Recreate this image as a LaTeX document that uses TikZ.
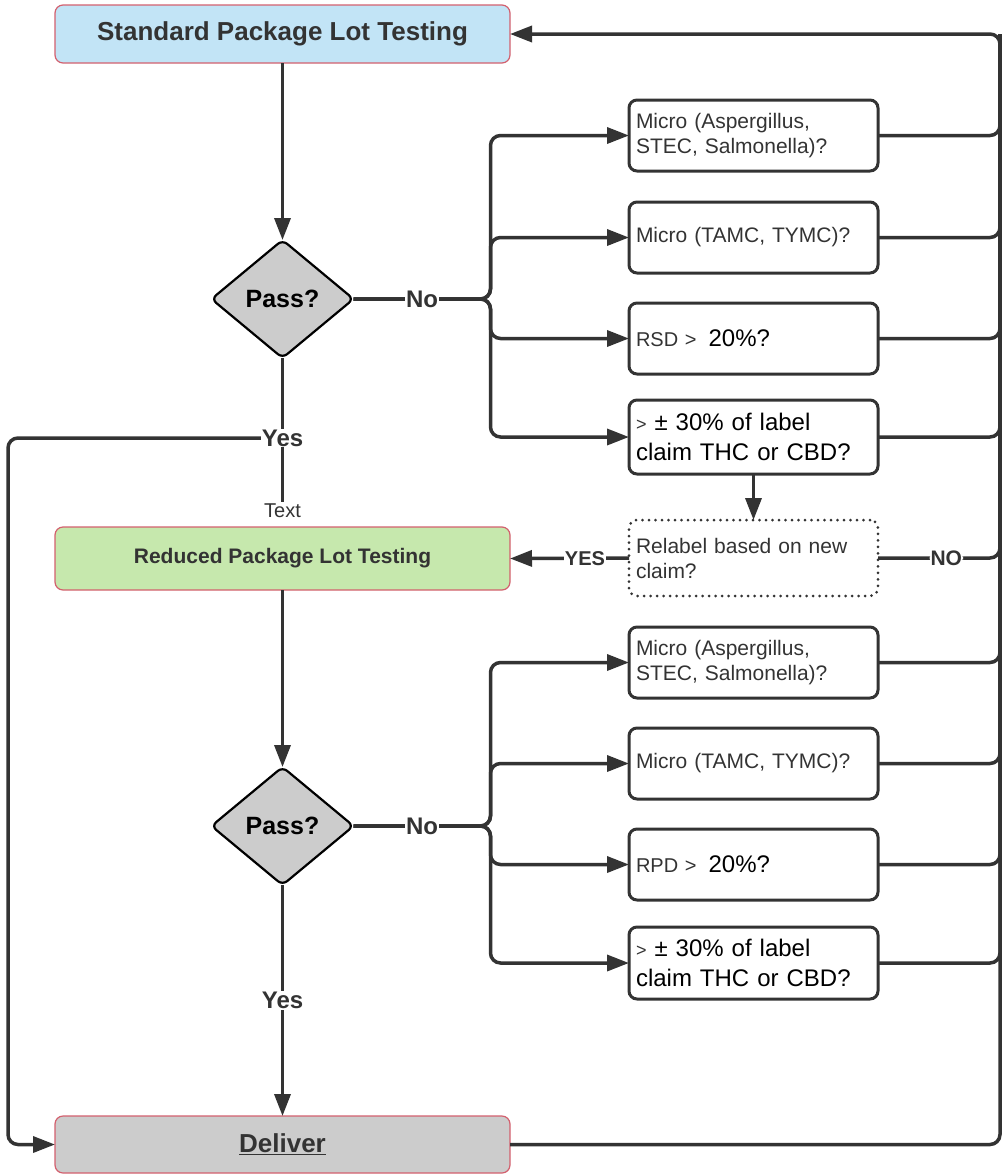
\documentclass[tikz,border=0pt]{standalone}
\usepackage{fontspec}
\setmainfont{Liberation Sans}
\usepackage{tikz}
\usetikzlibrary{arrows.meta,positioning,shapes.geometric}
\definecolor{ink}{HTML}{333333}
\definecolor{stdblue}{HTML}{C2E4F6}
\definecolor{redgreen}{HTML}{C6E8AD}
\definecolor{delgray}{HTML}{CCCCCC}
\definecolor{edge}{HTML}{D3606E}
\tikzset{
    mainbox/.style={rectangle, rounded corners=8pt, draw=edge, line width=1.2pt, outer sep=0pt, minimum width=455pt, text=ink},
    check/.style={rectangle, rounded corners=8pt, draw=ink, line width=3pt, outer sep=0pt, minimum width=249pt, text width=235pt, inner xsep=7pt, align=left, minimum height=71pt, text=ink, font=\fontsize{21}{25}\selectfont},
    decide/.style={diamond, draw=black, fill=delgray, line width=2.2pt, outer sep=0pt, rounded corners=6pt, minimum width=142pt, minimum height=118pt, inner sep=0pt, font=\fontsize{25}{28}\selectfont\bfseries, text=black},
    link/.style={draw=ink, line width=3.5pt},
    flow/.style={link, -{Triangle[length=22pt,width=16pt]}},
    lbl/.style={fill=white, inner sep=1pt, text=ink, font=\fontsize{24}{26}\selectfont\bfseries}
}

\begin{document}
\begin{tikzpicture}[x=1pt, y=-1pt]
            \useasboundingbox (0,0) rectangle (1002,1176);
            \node (std) [mainbox, fill=stdblue, minimum height=58pt, font=\fontsize{26}{30}\selectfont\bfseries] at (282.5,34) {Standard Package Lot Testing} {};
            \node (pass1) [decide, below=177pt of std] {Pass?} {};
            \node (reduced) [mainbox, fill=redgreen, minimum height=63pt, below=169pt of pass1, font=\fontsize{21}{24}\selectfont\bfseries] {Reduced Package Lot Testing} {};
            \node (txt) [above=7pt of reduced, inner sep=2pt, text=ink, font=\fontsize{20}{22}\selectfont] {Text} {};
            \node (pass2) [decide, below=177pt of reduced] {Pass?} {};
            \node (deliver) [mainbox, fill=delgray, minimum height=57pt, below=231pt of pass2, font=\fontsize{26}{30}\selectfont\bfseries] {\underline{Deliver}} {};

            \node (micro1) [check] at (753.5,135.5) {Micro (Aspergillus,\\STEC, Salmonella)?} {};
            \node (micro2) [check, below=31pt of micro1] {Micro (TAMC, TYMC)?} {};
            \node (rsd)    [check, below=30pt of micro2, font=\fontsize{20}{25}\selectfont] {RSD >\hspace{12pt}{\fontsize{24}{25}\selectfont\color{black}20\%?}} {};
            \node (claim1) [check, below=26pt of rsd, minimum height=74pt, font=\fontsize{24}{30}\selectfont] {{\fontsize{18}{20}\selectfont >} {\color{black}± 30\% of label}\\{\color{black}claim THC or CBD?}} {};
            \node (relabel) [check, dash pattern=on 0pt off 6.5pt, line cap=round, below=46pt of claim1, minimum height=76pt, font=\fontsize{21}{25}\selectfont] {Relabel based on new\\claim?} {};
            \node (micro3) [check, below=31pt of relabel] {Micro (Aspergillus,\\STEC, Salmonella)?} {};
            \node (micro4) [check, below=30pt of micro3] {Micro (TAMC, TYMC)?} {};
            \node (rpd)    [check, below=30pt of micro4, font=\fontsize{20}{25}\selectfont] {RPD >\hspace{12pt}{\fontsize{24}{25}\selectfont\color{black}20\%?}} {};
            \node (claim2) [check, below=27pt of rpd, minimum height=72pt, font=\fontsize{24}{30}\selectfont] {{\fontsize{18}{20}\selectfont >} {\color{black}± 30\% of label}\\{\color{black}claim THC or CBD?}} {};

            \coordinate (fork1) at ([xshift=137pt]pass1.east);
            \coordinate (fork2) at ([xshift=137pt]pass2.east);
            \coordinate (yes1) at ([yshift=-80pt]pass1.south);
            \coordinate (bus) at (1000,34);

            \draw[flow] (std.south) -- (pass1.north);
            \draw[link] (pass1.south) -- (txt.north);
            \draw[flow, rounded corners=10pt] (yes1) -| ([xshift=-47pt]deliver.west) -- (deliver.west);
            \draw[flow] (reduced.south) -- (pass2.north);
            \draw[flow] (pass2.south) -- node[lbl]{Yes} (deliver.north);
            \foreach \chk in {micro1,micro2,rsd,claim1}
                \draw[flow, rounded corners=10pt] (pass1.east) -- (fork1) |- (\chk.west);
            \foreach \chk in {micro3,micro4,rpd,claim2}
                \draw[flow, rounded corners=10pt] (pass2.east) -- (fork2) |- (\chk.west);
            \foreach \chk in {micro1,micro2,rsd,claim1,micro3,micro4,rpd,claim2}
                \draw[link, rounded corners=10pt] (\chk.east) -| (bus);
            \draw[link, rounded corners=10pt] (relabel.east) -| node[lbl, pos=0.28, font=\fontsize{21}{24}\selectfont\bfseries]{NO} (bus);
            \draw[flow] (claim1.south) -- (relabel.north);
            \draw[flow] (relabel.west) -- node[lbl, pos=0.37, font=\fontsize{20}{24}\selectfont\bfseries]{YES} (reduced.east);
            \draw[flow, rounded corners=10pt] (deliver.east) -| (bus) -- (std.east);
            \path (pass1.east) -- node[lbl]{No} (fork1);
            \path (pass2.east) -- node[lbl]{No} (fork2);
            \node[lbl] at (yes1) {Yes};

        \end{tikzpicture}
\end{document}
